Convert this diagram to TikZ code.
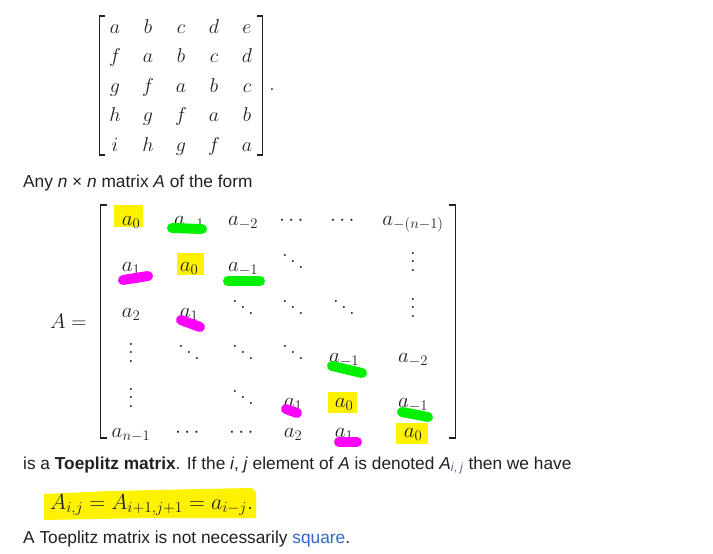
\RequirePackage{fix-cm}
\documentclass[tikz,border=0pt]{standalone}
\usepackage{amsmath}
\usepackage{fontspec}
\setmainfont{Liberation Sans}
\definecolor{wikitext}{HTML}{202122}
\definecolor{wikilink}{HTML}{3366CC}
\definecolor{subgrey}{HTML}{5A5F8A}
\definecolor{markgreen}{HTML}{00F000}
\definecolor{markpink}{HTML}{FF00FF}
\makeatletter
\newcommand\tallvdots{\vbox{\baselineskip8.4\p@ \lineskiplimit\z@ \kern12.6\p@\hbox{$\m@th.$}\hbox{$\m@th.$}\hbox{$\m@th.$}}}
\newcommand\tallddots{\mathinner{\mkern1mu\raise14.7\p@\vbox{\kern14.7\p@\hbox{$\m@th.$}}\mkern2mu\raise8.4\p@\hbox{$\m@th.$}\mkern2mu\raise2.1\p@\hbox{$\m@th.$}\mkern1mu}}
\makeatother

\begin{document}
\begin{tikzpicture}
[
    x=1pt, y=-1pt,
    every node/.style={inner sep=0pt, text=wikitext},
    cell/.style={anchor=base, font=\fontsize{21}{25}\selectfont},
    small cell/.style={anchor=base, font=\fontsize{20}{24}\selectfont},
    line/.style={anchor=base west, font=\fontsize{17.3}{21}\selectfont},
    hl/.style={fill=yellow},
    greenmark/.style={draw=markgreen, line width=10pt, line cap=round},
    pinkmark/.style={draw=markpink, line width=10pt, line cap=round},
    bracket/.style={draw=wikitext, line width=1.8pt},
]
\useasboundingbox (0,0) rectangle (713,554);

\foreach \row [count=\r] in {{a,b,c,d,e},{f,a,b,c,d},{g,f,a,b,c},{h,g,f,a,b},{i,h,g,f,a}}
    \foreach \entry [count=\c] in \row
        \node[small cell] (t\r\c) at ({82+33*\c},{3.5+29.5*\r}) {$\entry$};
\draw[bracket] (105,16) -- (99.5,16) -- (99.5,155) -- (105,155);
\draw[bracket] (257,16) -- (262.5,16) -- (262.5,155) -- (257,155);
\node[small cell] (period) at (272,90) {$.$};

\node[line] (any) at (23,187) {Any \textit{n} × \textit{n} matrix \textit{A} of the form};

\fill[hl] (114,205) rectangle (143,227);
\fill[hl] (177,253) rectangle (204,275);
\fill[hl] (328,392) rectangle (357,413);
\fill[hl] (396,423) rectangle (428,444);

\node[cell, anchor=base west] (lhs) at (50,328) {$A =$};
\foreach \y/\row [count=\r] in {
    225/{1/a_0,2/a_{-1},3/a_{-2},4/\cdots,5/\cdots,6/a_{-(n-1)}},
    271/{1/a_1,2/a_0,3/a_{-1},4/\tallddots,6/\tallvdots},
    317/{1/a_2,2/a_1,3/\tallddots,4/\tallddots,5/\tallddots,6/\tallvdots},
    362/{1/\tallvdots,2/\tallddots,3/\tallddots,4/\tallddots,5/a_{-1},6/a_{-2}},
    407/{1/\tallvdots,3/\tallddots,4/a_1,5/a_0,6/a_{-1}},
    437/{1/a_{n-1},2/\cdots,3/\cdots,4/a_2,5/a_1,6/a_0}}
    \foreach \c/\e in \row {
        \pgfmathsetmacro\x{{131,189,243,293,344,413}[\c-1]}
        \node[cell] (m\r\c) at (\x,\y) {$\e$};
    }
\draw[bracket] (107,205) -- (100.5,205) -- (100.5,438) -- (107,438);
\draw[bracket] (449,205) -- (455.5,205) -- (455.5,438) -- (449,438);

\draw[greenmark] (172,228) -- (202,229);
\draw[greenmark] (228,281) -- (260,281);
\draw[greenmark] (332,366) -- (362,373);
\draw[greenmark] (402,412) -- (428,417);
\draw[pinkmark] (123,280) -- (148,276);
\draw[pinkmark] (181,320) -- (200,327);
\draw[pinkmark] (286,409) -- (297,413);
\draw[pinkmark] (339,442) -- (357,442);

\node[line] (def) at (23,469) {is a \textbf{Toeplitz matrix}. If the \textit{i}, \textit{j} element of \textit{A} is denoted \textit{A}\textsubscript{\textcolor{subgrey}{\textit{i}, \textit{j}}} then we have};

\fill[hl] (44,494) -- (110,491) -- (200,489) -- (252,488) -- (256,492) -- (256,518) -- (150,518) -- (44,520) -- cycle;
\node[anchor=base west, font=\fontsize{22}{26}\selectfont] (eq) at (50,509) {$A_{i,j} = A_{i+1,j+1} = a_{i-j}.$};

\node[line] (note) at (23,543) {A Toeplitz matrix is not necessarily \textcolor{wikilink}{square}.};
\end{tikzpicture}
\end{document}
